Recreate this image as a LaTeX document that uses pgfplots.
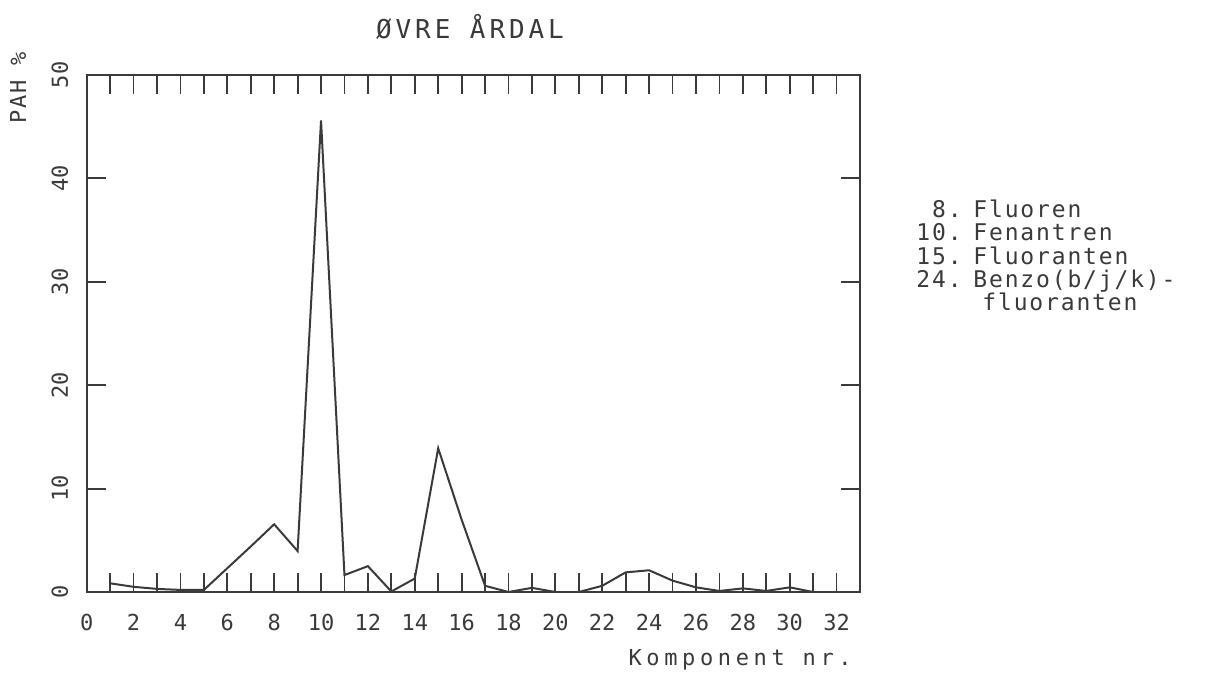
\documentclass[border=0pt]{standalone}
\usepackage{pgfplots}
\pgfplotsset{compat=1.18}
\usepackage{fontspec}
\setmainfont{DejaVu Sans Mono}
\newfontfamily\tickfont{DejaVu Sans Mono}
\newfontfamily\titlefont[LetterSpace=15]{DejaVu Sans Mono}
\newfontfamily\labfont[LetterSpace=21]{DejaVu Sans Mono}
\newfontfamily\legfont[LetterSpace=8]{DejaVu Sans Mono}
\definecolor{ink}{HTML}{3A3A3A}
\begin{document}
\begin{tikzpicture}
\useasboundingbox (-43.35pt,-41.5pt) rectangle (559.65pt,296pt);
\begin{axis}[
  at={(0,0)}, anchor=south west, scale only axis,
  width=386.65pt, height=258.5pt,
  xmin=0, xmax=33, ymin=0, ymax=50,
  xtick={0,2,...,32}, minor xtick={1,3,...,31},
  ytick={0,10,...,50},
  major tick length=9.5pt, minor tick length=9.5pt,
  tick align=inside,
  axis line style={ink, line width=1pt},
  every tick/.style={ink, line width=0.9pt},
  /pgf/number format/assume math mode=true,
  ticklabel style={font=\fontsize{11}{13}\selectfont\tickfont, text=ink},
  xticklabel style={anchor=base, yshift=-19.35pt},
  yticklabel style={xshift=-9.35pt, rotate=90, anchor=base},
]
\addplot[ink, line width=1pt, mark=none] coordinates {
 (1,0.84) (2,0.5) (3,0.3) (4,0.2) (5,0.2) (6,2.3) (7,4.4) (8,6.55)
 (9,3.96) (10,45.6) (11,1.64) (12,2.5) (13,0.05) (14,1.3) (15,13.9)
 (16,7.0) (17,0.6) (18,0) (19,0.4) (20,0) (21,0) (22,0.6) (23,1.9)
 (24,2.1) (25,1.1) (26,0.45) (27,0.1) (28,0.35) (29,0.1) (30,0.45)
 (31,0) (32,0)
};
\end{axis}
\node[anchor=base, text=ink, font=\fontsize{13}{15}\selectfont\titlefont] at (191.65pt,276.5pt) {ØVRE ÅRDAL};
\node[anchor=center, rotate=90, text=ink, font=\fontsize{11}{13}\selectfont\legfont] at (-34.35pt,252pt) {PAH \%};
\node[anchor=base east, text=ink, font=\fontsize{11}{13}\selectfont\labfont] at (386pt,-37pt) {Komponent nr.};
\begin{scope}[every node/.style={text=ink, font=\fontsize{11.5}{13}\selectfont\legfont, inner sep=0pt}]
\node[anchor=base east] at (437.65pt,187pt) {8.};
\node[anchor=base west] at (443.15pt,187pt) {Fluoren};
\node[anchor=base east] at (437.65pt,175.5pt) {10.};
\node[anchor=base west] at (443.15pt,175.5pt) {Fenantren};
\node[anchor=base east] at (437.65pt,163.5pt) {15.};
\node[anchor=base west] at (443.15pt,163.5pt) {Fluoranten};
\node[anchor=base east] at (437.65pt,152pt) {24.};
\node[anchor=base west] at (443.15pt,152pt) {Benzo(b/j/k)-};
\node[anchor=base west] at (447.65pt,140.5pt) {fluoranten};
\end{scope}
\end{tikzpicture}
\end{document}
